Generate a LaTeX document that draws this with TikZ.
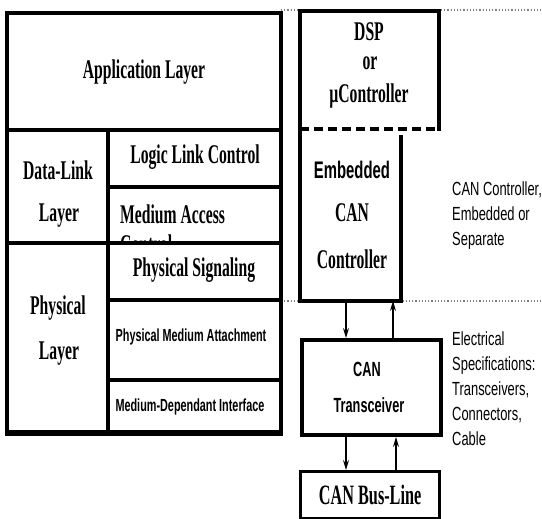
\documentclass[tikz,border=0pt]{standalone}
\usepackage{fontspec}
\setmainfont{Liberation Serif}
\newfontfamily\serb[FakeStretch=0.58]{Liberation Serif}
\newfontfamily\sansb[FakeStretch=0.62]{Liberation Sans}
\newfontfamily\sansr[FakeStretch=0.68]{Liberation Sans}
\usetikzlibrary{arrows.meta}

\tikzset{
  frame/.style={line width=3.3pt, line cap=rect},
  heavy/.style={line width=5pt},
  dotline/.style={gray, line width=1.2pt, dotted},
  cell/.style={draw=none, inner sep=0pt, outer sep=0pt},
  slab/.style={inner sep=0pt, font=\serb\bfseries\fontsize{27}{30}\selectfont},
  sslab/.style={inner sep=0pt, font=\sansb\bfseries\fontsize{17.5}{20}\selectfont},
  sblab/.style={inner sep=0pt, font=\sansb\bfseries\fontsize{24}{28}\selectfont},
  tlab/.style={inner sep=0pt, font=\sansb\bfseries\fontsize{20.5}{24}\selectfont},
  note/.style={inner sep=0pt, anchor=north west, align=left,
               font=\sansr\fontsize{19}{25}\selectfont},
  sig/.style={line width=1.4pt, -{Stealth[length=10pt,width=6pt,inset=3.5pt]}},
}

\begin{document}
\begin{tikzpicture}[x=1pt,y=-1pt]
\useasboundingbox (0,0) rectangle (542,519);

% dotted guide lines
\draw[dotline] (281,10) -- (542,10);
\draw[dotline] (281,301) -- (542,301);

% ---------- layer stack ----------
\fill[white] (7,13) rectangle (281,432);
\draw[frame] (7,13) rectangle (281,432);
\draw[frame] (7,130) -- (281,130);
\draw[frame] (108,130) -- (108,432);
\draw[frame] (108,187) -- (281,187);
\draw[frame] (7,243) -- (281,243);
\draw[frame] (108,300) -- (281,300);
\draw[frame] (108,380) -- (281,380);
\draw[heavy] (5.4,433) -- (282.6,433);

\node[slab] (app) at (144,72) {Application Layer};
\node[slab] (dl1) at (58,170) {Data-Link};
\node[slab] (dl2) at (59,216) {Layer};
\node[slab] (llc) at (195,157) {Logic Link Control};
\begin{scope}
  \clip (109.6,188.6) rectangle (279.4,241.4);
  \node[slab, anchor=base west] (mac1) at (120,224) {Medium Access};
  \node[slab, anchor=base west] (mac2) at (120,254) {Control};
\end{scope}
\node[slab] (ps) at (194,270) {Physical Signaling};
\node[slab] (ph1) at (58,308) {Physical};
\node[slab] (ph2) at (59,354) {Layer};
\node[sslab] (pma) at (191,337) {Physical Medium Attachment};
\node[sslab] (mdi) at (190,407) {Medium-Dependant Interface};

% ---------- hardware blocks ----------
\fill[white] (300,11) rectangle (439,129);
\fill[white] (300,129) rectangle (401,301);
\draw[frame] (300,129) -- (300,11) -- (439,11) -- (439,129);
\draw[frame, line cap=butt, dash pattern=on 9pt off 5pt] (300,129) -- (439,129);
\node[cell, minimum width=101pt, minimum height=164pt, anchor=north west] (ctrl) at (300,137) {};
\draw[frame] (300,129) -- (ctrl.south west) -- (ctrl.south east) -- (ctrl.north east);

\node[slab] (dsp) at (369,32) {DSP};
\node[slab] (or) at (370,63) {or};
\node[slab] (uc) at (369,96) {µController};
\node[sblab] (emb) at (352,170) {Embedded};
\node[slab] (can1) at (352,213) {CAN};
\node[slab] (ctl) at (352,259) {Controller};

\node[draw, frame, line width=4pt, fill=white, minimum width=139pt, minimum height=95pt, anchor=north west] (trx) at (300,338) {};
\node[tlab] (can2) at (367,369) {CAN};
\node[tlab] (trxl) at (369,405) {Transceiver};

\node[draw, frame, fill=white, minimum width=139pt, minimum height=47pt, anchor=north west, slab, font=\serb\bfseries\fontsize{28}{30}\selectfont] (bus) at (299,470) {CAN Bus-Line};

% signal arrows
\coordinate (xa) at (346,0);
\coordinate (xb) at (393,0);
\coordinate (xc) at (396,0);
\draw[sig] (ctrl.south -| xa) -- (trx.north -| xa);
\draw[sig] (trx.north -| xb) -- (ctrl.south -| xb);
\draw[sig] (trx.south -| xa) -- (bus.north -| xa);
\draw[sig] (bus.north -| xc) -- (trx.south -| xc);

% side notes
\node[note] (n1) at (452,182) {CAN Controller,\\Embedded or\\Separate};
\node[note] (n2) at (452,332) {Electrical\\Specifications:\\Transceivers,\\Connectors,\\Cable};
\end{tikzpicture}
\end{document}
